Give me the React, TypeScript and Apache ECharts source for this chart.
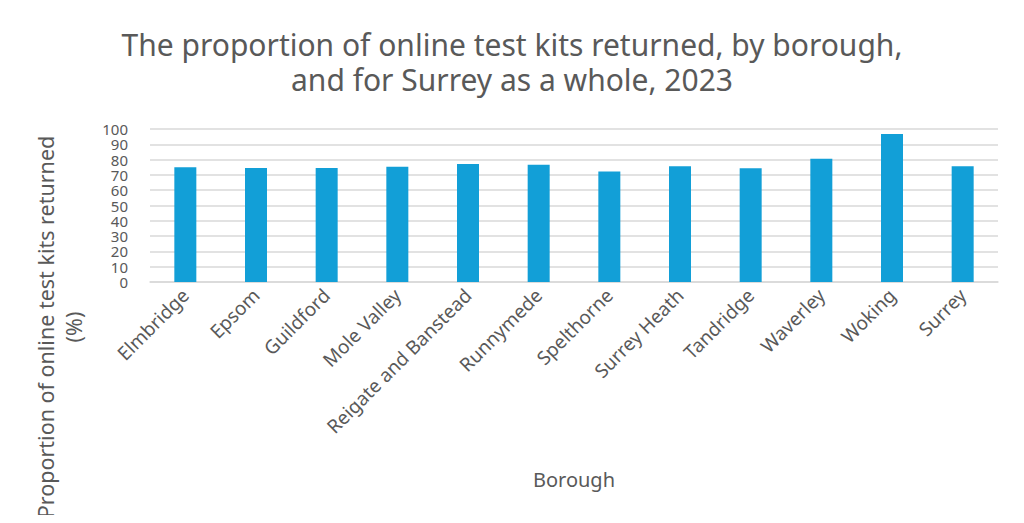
import { useEffect, useRef } from 'react'

import * as echarts from 'echarts'

const boroughs = [
  'Elmbridge',
  'Epsom',
  'Guildford',
  'Mole Valley',
  'Reigate and Banstead',
  'Runnymede',
  'Spelthorne',
  'Surrey Heath',
  'Tandridge',
  'Waverley',
  'Woking',
  'Surrey',
]
const returnedPct = [75, 74.5, 74.5, 75.4, 77.1, 76.7, 72.3, 75.6, 74.3, 80.6, 96.7, 75.6]

const textColor = '#595959'
const font = '"Noto Sans", "Open Sans", sans-serif'

const App = () => {
  const main = useRef(null)
  useEffect(() => {
    const option = {
      animation: false,
      title: {
        text: 'The proportion of online test kits returned, by borough,\nand for Surrey as a whole, 2023',
        left: 'center',
        top: 22,
        textStyle: {
          fontFamily: font,
          fontSize: 30,
          fontWeight: 'normal',
          color: textColor,
          lineHeight: 35,
        },
      },
      grid: {
        // position of the plot area
        left: 150,
        right: 26,
        top: 129,
        bottom: 241,
        containLabel: false,
      },
      graphic: [
        {
          type: 'text',
          x: 59,
          y: 327,
          rotation: Math.PI / 2,
          style: {
            text: 'Proportion of online test kits returned\n(%)',
            fontFamily: font,
            fontSize: 21.5,
            lineHeight: 28,
            fill: textColor,
            align: 'center',
            verticalAlign: 'middle',
          },
        },
      ],
      xAxis: {
        type: 'category',
        data: boroughs,
        name: 'Borough',
        nameLocation: 'middle',
        nameGap: 187,
        nameTextStyle: {
          fontFamily: font,
          fontSize: 20,
          color: textColor,
        },
        axisLine: { lineStyle: { color: '#d9d9d9', width: 1.5 } },
        axisTick: { show: false },
        axisLabel: {
          rotate: 45,
          interval: 0,
          fontFamily: font,
          fontSize: 19,
          color: textColor,
          margin: 10,
        },
      },
      yAxis: {
        type: 'value',
        min: 0,
        max: 100,
        interval: 10,
        axisLine: { show: false },
        axisTick: { show: false },
        axisLabel: {
          fontFamily: font,
          fontSize: 15,
          color: textColor,
          margin: 22,
          showMinLabel: true,
          showMaxLabel: true,
        },
        splitLine: { lineStyle: { color: '#d9d9d9', width: 1.5 } },
      },
      series: [
        {
          type: 'bar',
          data: returnedPct,
          barWidth: 22,
          itemStyle: {
            color: '#129fd7',
          },
        },
      ],
    }
    const myCharts = echarts.init(main.current, null, { renderer: 'svg' })
    myCharts.setOption(option)
    return () => {
      myCharts.dispose()
    }
  }, [])
  return (
    <>
      <div ref={main} style={{ width: '1024px', height: '523px', margin: '-8px' }}></div>
    </>
  )
}

export default App
